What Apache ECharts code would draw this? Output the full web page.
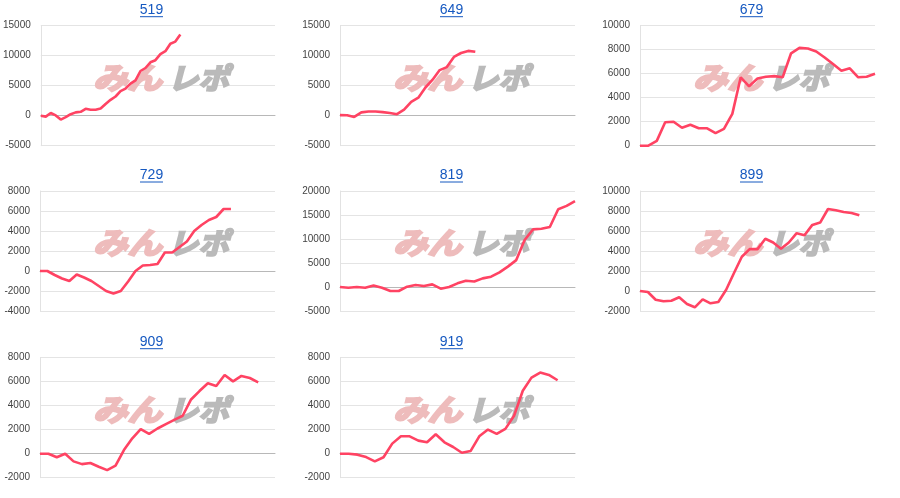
<!DOCTYPE html>
<html>
<head>
<meta charset="utf-8">
<script src="https://cdn.jsdelivr.net/npm/echarts@6/dist/echarts.min.js"></script>
<style>
html,body{margin:0;padding:0;background:#fff;}
#c{width:900px;height:498px;}
</style>
</head>
<body>
<div id="c"></div>
<script>
// ---- data ----
const titles = ['519', '649', '679', '729', '819', '899', '909', '919'];
const v519 = [0, -150, 450, 50, -650, -250, 250, 550, 650, 1150, 1000, 1000, 1200, 1950, 2650, 3200, 4100, 4500, 5350, 5900, 7450, 7950, 8900, 9250, 10250, 10750, 12000, 12350, 13550];
const v649 = [100, 80, -200, 550, 700, 700, 600, 450, 250, 1000, 2300, 3000, 4700, 6000, 7600, 8100, 9800, 10450, 10800, 10650];
const v679 = [0, 0, 400, 1950, 2000, 1500, 1750, 1450, 1450, 1050, 1400, 2650, 5700, 4950, 5600, 5750, 5800, 5700, 7700, 8150, 8100, 7850, 7350, 6800, 6250, 6450, 5700, 5750, 6000];
const v729 = [0, 0, -400, -750, -1000, -350, -650, -1000, -1500, -2000, -2250, -2000, -1050, 0, 550, 600, 700, 1850, 1850, 2400, 2950, 4000, 4600, 5100, 5400, 6200, 6200];
const v819 = [0, -150, 0, -150, 300, -150, -830, -830, 70, 420, 200, 550, -350, 0, 760, 1300, 1150, 1800, 2150, 3050, 4250, 5600, 9800, 12000, 12150, 12500, 16200, 16900, 17900];
const v899 = [0, -100, -870, -1030, -970, -630, -1300, -1630, -830, -1230, -1100, 130, 1800, 3420, 4190, 4190, 5220, 4850, 4220, 4850, 5780, 5580, 6610, 6840, 8200, 8070, 7900, 7800, 7570];
const v909 = [0, 0, -300, 0, -640, -870, -780, -1090, -1370, -1000, 300, 1280, 2040, 1650, 2100, 2460, 2820, 3160, 4520, 5220, 5870, 5640, 6560, 6030, 6480, 6310, 5950];
const v919 = [0, 0, -80, -280, -640, -300, 840, 1450, 1450, 1090, 950, 1620, 950, 560, 80, 220, 1450, 2010, 1650, 2070, 3160, 5250, 6340, 6760, 6560, 6120];
const xSpan = [47, 33, 28, 32, 28, 30, 28, 27];
const yMin = [-5000, -5000, 0, -4000, -5000, -2000, -2000, -2000];
const yMax = [15000, 15000, 10000, 8000, 20000, 10000, 8000, 8000];
const yStep = [5000, 5000, 2000, 2000, 5000, 2000, 2000, 2000];

const panels = [v519, v649, v679, v729, v819, v899, v909, v919];

// ---- layout ----
const colX = [0, 300, 600];
const rowTop = [25.7, 191, 357.7];
const plotL = 40, plotW = 235, plotH = 120;
const FONT = '"Liberation Sans", Arial, sans-serif';
const LINK = '#1558c0';

const grids = [], xAxes = [], yAxes = [], series = [], graphics = [];
panels.forEach((vals, i) => {
  const c = i % 3, r = Math.floor(i / 3);
  const gl = colX[c] + plotL, gt = rowTop[r];
  grids.push({left: gl, top: gt, width: plotW, height: plotH});
  xAxes.push({
    gridIndex: i, type: 'value', min: 0, max: xSpan[i],
    axisLabel: {show: false}, axisTick: {show: false}, splitLine: {show: false},
    axisLine: {show: true, onZero: true, lineStyle: {color: '#b8b8b8', width: 1}}
  });
  yAxes.push({
    gridIndex: i, type: 'value', min: yMin[i], max: yMax[i], interval: yStep[i],
    axisLine: {show: true, lineStyle: {color: '#e2e2e2'}},
    axisTick: {show: false},
    axisLabel: {color: '#444', fontSize: 10, margin: 10, fontFamily: FONT,
      formatter: (v) => String(v)},
    splitLine: {lineStyle: {color: '#e4e4e4', width: 1}}
  });
  series.push({
    type: 'line', xAxisIndex: i, yAxisIndex: i, silent: true,
    data: vals.map((v, k) => [k, v]),
    showSymbol: false, z: 5,
    lineStyle: {color: '#ff4363', width: 2.6}
  });
  // title with underline
  const cx = colX[c] + 151.5;
  graphics.push({
    type: 'text', x: cx, y: gt - 15.5, z: 10,
    style: {text: titles[i], x: 0, y: 0, textAlign: 'center', textVerticalAlign: 'middle',
      fill: LINK, font: '14px ' + FONT}
  });
  graphics.push({
    type: 'line', z: 10,
    shape: {x1: cx - 11.5, y1: gt - 9, x2: cx + 11.5, y2: gt - 9},
    style: {stroke: LINK, lineWidth: 1}
  });
  // watermark
  graphics.push({
    type: 'text', x: gl + 53, y: gt + 52, z: 1, scaleX: 1.15,
    style: {text: 'みん', x: 0, y: 0, textAlign: 'left', textVerticalAlign: 'middle',
      fill: '#eebcbc', stroke: '#eebcbc', lineWidth: 2.2,
      font: 'italic bold 30px "Noto Sans CJK JP"'}
  });
  graphics.push({
    type: 'text', x: gl + 128, y: gt + 52, z: 1, scaleX: 1.05,
    style: {text: 'レポ', x: 0, y: 0, textAlign: 'left', textVerticalAlign: 'middle',
      fill: '#bababa', stroke: '#bababa', lineWidth: 2.2,
      font: 'italic bold 29px "Noto Sans CJK JP"'}
  });
});

const chart = echarts.init(document.getElementById('c'), null, {renderer: 'canvas'});
chart.setOption({
  animation: false,
  backgroundColor: '#fff',
  grid: grids,
  xAxis: xAxes,
  yAxis: yAxes,
  series: series,
  graphic: graphics
});
</script>
</body>
</html>
